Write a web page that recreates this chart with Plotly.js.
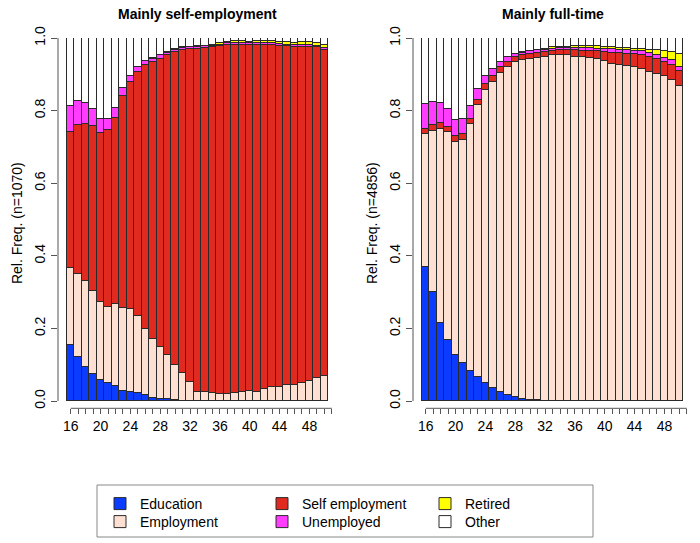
<!DOCTYPE html>
<html>
<head>
<meta charset="utf-8">
<script src="https://cdn.plot.ly/plotly-3.0.1.min.js"></script>
<style>html,body{margin:0;padding:0;background:#fff}#chart{width:700px;height:543px}</style>
</head>
<body>
<div id="chart"></div>
<script>
// ---- data ----
const ages = [16,17,18,19,20,21,22,23,24,25,26,27,28,29,30,31,32,33,34,35,36,37,38,39,40,41,42,43,44,45,46,47,48,49,50];
const stateNames = ['Education','Employment','Self employment','Unemployed','Retired','Other'];
const stateColors = ['#0b3bff','#fde0d2','#e0291f','#ff3cff','#ffff00','#ffffff'];

// Panel 1: Mainly self-employment (n=1070)
const edu_L   = [0.154,0.120,0.093,0.074,0.058,0.049,0.041,0.028,0.025,0.021,0.017,0.008,0.006,0.005,0.003,0.001,0.001,0,0,0,0,0,0,0,0,0,0,0,0,0,0,0,0,0,0];
const emp_L   = [0.212,0.230,0.238,0.230,0.216,0.211,0.226,0.228,0.229,0.213,0.181,0.162,0.142,0.121,0.095,0.075,0.052,0.026,0.024,0.021,0.019,0.019,0.021,0.024,0.028,0.026,0.033,0.040,0.040,0.044,0.044,0.051,0.055,0.063,0.070];
const self_L  = [0.375,0.409,0.433,0.453,0.464,0.487,0.514,0.583,0.625,0.671,0.727,0.763,0.795,0.828,0.864,0.892,0.917,0.944,0.948,0.953,0.958,0.961,0.960,0.957,0.952,0.954,0.948,0.941,0.938,0.933,0.931,0.924,0.920,0.911,0.898];
const unemp_L = [0.072,0.068,0.057,0.048,0.040,0.031,0.027,0.023,0.017,0.014,0.011,0.010,0.009,0.006,0.006,0.004,0.004,0.005,0.005,0.005,0.005,0.005,0.005,0.005,0.005,0.005,0.005,0.005,0.005,0.005,0.005,0.005,0.005,0.005,0.005];
const ret_L   = [0,0,0,0,0,0,0,0,0,0,0,0.001,0.002,0.002,0.002,0.002,0.002,0.002,0.002,0.003,0.004,0.005,0.005,0.005,0.005,0.006,0.006,0.006,0.006,0.007,0.007,0.008,0.008,0.008,0.009];
const oth_L   = [0.187,0.173,0.179,0.195,0.222,0.222,0.192,0.138,0.104,0.081,0.064,0.056,0.046,0.038,0.030,0.026,0.024,0.023,0.021,0.018,0.014,0.010,0.009,0.009,0.010,0.009,0.008,0.008,0.011,0.011,0.013,0.012,0.012,0.013,0.018];

// Panel 2: Mainly full-time (n=4856)
const edu_R   = [0.370,0.299,0.216,0.168,0.127,0.106,0.083,0.066,0.050,0.035,0.024,0.017,0.010,0.006,0.004,0.002,0.001,0.001,0,0,0,0,0,0,0,0,0,0,0,0,0,0,0,0,0];
const emp_R   = [0.365,0.446,0.533,0.573,0.587,0.614,0.681,0.749,0.808,0.844,0.879,0.902,0.924,0.934,0.938,0.943,0.948,0.951,0.954,0.953,0.949,0.948,0.945,0.942,0.936,0.929,0.925,0.922,0.919,0.915,0.905,0.901,0.894,0.885,0.867];
const self_R  = [0.015,0.016,0.016,0.015,0.015,0.015,0.014,0.014,0.016,0.015,0.016,0.015,0.013,0.012,0.014,0.014,0.012,0.013,0.014,0.015,0.017,0.017,0.020,0.021,0.025,0.031,0.034,0.035,0.037,0.037,0.043,0.042,0.040,0.041,0.043];
const unemp_R = [0.069,0.062,0.056,0.049,0.044,0.042,0.034,0.030,0.022,0.021,0.015,0.014,0.009,0.008,0.007,0.007,0.007,0.006,0.005,0.005,0.007,0.008,0.008,0.008,0.010,0.010,0.009,0.011,0.009,0.011,0.011,0.011,0.011,0.014,0.011];
const ret_R   = [0,0,0,0,0,0,0,0,0,0,0,0,0.001,0.001,0.001,0.002,0.002,0.003,0.003,0.003,0.004,0.004,0.004,0.006,0.005,0.005,0.005,0.004,0.006,0.006,0.009,0.013,0.019,0.021,0.035];
const oth_R   = [0.181,0.177,0.179,0.195,0.227,0.223,0.188,0.141,0.104,0.085,0.066,0.052,0.043,0.039,0.036,0.032,0.030,0.026,0.024,0.024,0.023,0.023,0.023,0.023,0.024,0.025,0.027,0.028,0.029,0.031,0.032,0.033,0.036,0.039,0.044];

const panelTitles = ['Mainly self-employment','Mainly full-time'];
const yTitles = ['Rel. Freq. (n=1070)','Rel. Freq. (n=4856)'];
const yTickVals = [0,0.2,0.4,0.6,0.8,1.0];
const yTickText = ['0.0','0.2','0.4','0.6','0.8','1.0'];
const xTickVals = [16,17,18,19,20,21,22,23,24,25,26,27,28,29,30,31,32,33,34,35,36,37,38,39,40,41,42,43,44,45,46,47,48,49,50,51];
const xTickText = ['16','','','','20','','','','24','','','','28','','','','32','','','','36','','','','40','','','','44','','','','48','','',''];

// ---- figure ----
const W = 700, H = 543;
const fontFam = '"Liberation Sans", Arial, Helvetica, sans-serif';
const axisCol = '#555';
const panels = [[edu_L, emp_L, self_L, unemp_L, ret_L, oth_L],[edu_R, emp_R, self_R, unemp_R, ret_R, oth_R]];
const legendIds = ['legend','legend2','legend3','legend4','legend5','legend6'];
const legendPos = [[100,504],[100,522],[262,504],[262,522],[425,504],[425,522]];

const traces = [];
panels.forEach((series, p) => {
  series.forEach((vals, s) => {
    traces.push({
      type: 'bar', x: ages, y: vals, name: stateNames[s],
      xaxis: p ? 'x2' : 'x', yaxis: p ? 'y2' : 'y',
      width: 1,
      marker: {color: stateColors[s], line: {color: '#2a2a2a', width: 1}},
      showlegend: p === 0, legend: legendIds[s],
      hovertemplate: stateNames[s] + ' age %{x}: %{y}<extra></extra>'
    });
  });
});

const yDom = [(H - 408.3) / H, (H - 38) / H];
function xAx(dom) {
  return {domain: dom, range: [14.294, 51.83], tickmode: 'array', tickvals: xTickVals, ticktext: xTickText,
    ticks: 'outside', ticklen: 5, tickwidth: 1, tickcolor: axisCol, showgrid: false, zeroline: false, showline: false,
    tickfont: {size: 14, color: '#000'}, fixedrange: true};
}
function yAx(title) {
  return {domain: yDom, range: [-0.02, 1], tickmode: 'array', tickvals: yTickVals, ticktext: yTickText, tickangle: -90,
    ticks: 'outside', ticklen: 6, tickwidth: 1, tickcolor: axisCol, showgrid: false, zeroline: false, showline: false,
    tickfont: {size: 14, color: '#000'}, fixedrange: true,
    title: {text: title, font: {size: 14, color: '#000'}, standoff: 6}};
}

const layout = {
  width: W, height: H, margin: {l: 0, r: 0, t: 0, b: 0},
  paper_bgcolor: '#fff', plot_bgcolor: '#fff',
  barmode: 'stack', bargap: 0,
  font: {family: fontFam, size: 14, color: '#000'},
  xaxis: xAx([58 / W, 338 / W]), yaxis: Object.assign(yAx(yTitles[0]), {anchor: 'x'}),
  xaxis2: Object.assign(xAx([413 / W, 693 / W]), {anchor: 'y2'}),
  yaxis2: Object.assign(yAx(yTitles[1]), {anchor: 'x2'}),
  shapes: [
    {type: 'line', xref: 'x domain', yref: 'y', x0: 0, x1: 0, y0: 0, y1: 1, line: {color: axisCol, width: 1}},
    {type: 'line', xref: 'x', yref: 'y domain', x0: 16, x1: 51, y0: 0, y1: 0, line: {color: axisCol, width: 1}},
    {type: 'line', xref: 'x2 domain', yref: 'y2', x0: 0, x1: 0, y0: 0, y1: 1, line: {color: axisCol, width: 1}},
    {type: 'line', xref: 'x2', yref: 'y2 domain', x0: 16, x1: 51, y0: 0, y1: 0, line: {color: axisCol, width: 1}},
    {type: 'rect', xref: 'paper', yref: 'paper', x0: 97 / W, x1: 593 / W, y0: (H - 537) / H, y1: (H - 485) / H,
      line: {color: '#888', width: 1}, fillcolor: 'rgba(0,0,0,0)'}
  ],
  annotations: [
    {text: '<b>' + panelTitles[0] + '</b>', xref: 'paper', yref: 'paper', x: 197.5 / W, y: (H - 14) / H,
      xanchor: 'center', yanchor: 'middle', showarrow: false, font: {size: 14}},
    {text: '<b>' + panelTitles[1] + '</b>', xref: 'paper', yref: 'paper', x: 552.5 / W, y: (H - 14) / H,
      xanchor: 'center', yanchor: 'middle', showarrow: false, font: {size: 14}}
  ]
};
legendIds.forEach((id, i) => {
  layout[id] = {x: legendPos[i][0] / W, y: (H - legendPos[i][1]) / H, xanchor: 'left', yanchor: 'middle',
    orientation: 'v', bgcolor: 'rgba(0,0,0,0)', borderwidth: 0, font: {size: 14, color: '#000'}};
});

Plotly.newPlot('chart', traces, layout, {displayModeBar: false, responsive: false});
</script>
</body>
</html>
